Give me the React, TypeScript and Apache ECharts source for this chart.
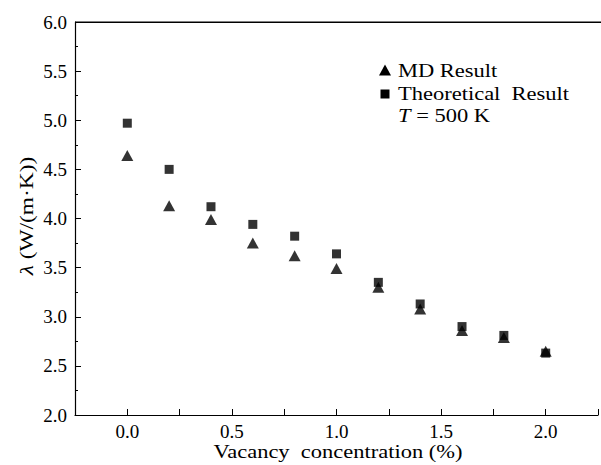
import React, { useEffect, useRef } from "react";
import * as echarts from "echarts";

const concentrations = [0, 0.2, 0.4, 0.6, 0.8, 1.0, 1.2, 1.4, 1.6, 1.8, 2.0];
const mdResult = [4.64, 4.13, 3.99, 3.75, 3.62, 3.49, 3.3, 3.08, 2.86, 2.79, 2.65];
const theoreticalResult = [4.97, 4.5, 4.12, 3.94, 3.82, 3.64, 3.35, 3.13, 2.9, 2.81, 2.63];
const seriesNames = ["MD Result", "Theoretical Result"];
const legendLines = ["MD Result", "Theoretical  Result", "{i|T} = 500 K"];
const xTitle = "Vacancy  concentration (%)";
const yTitle = "{i|λ} (W/(m·K))";

const FONT = "Liberation Serif";
const SX = 1.25;

export default function App() {
  const ref = useRef<HTMLDivElement>(null);
  useEffect(() => {
    if (!ref.current) return;
    const chart = echarts.init(ref.current, null, { renderer: "svg" });
    const labelStyle = { color: "#000", fontFamily: FONT, fontSize: 19 };
    const italic = { i: { fontStyle: "italic", fontFamily: FONT, fontSize: 18, fill: "#000" } };
    const txt = (text: string, x: number, y: number, extra: any = {}) => ({
      type: "text",
      x,
      y,
      scaleX: SX,
      style: {
        text,
        fill: "#000",
        fontFamily: FONT,
        fontSize: 18,
        verticalAlign: "middle",
        rich: italic,
        ...extra,
      },
    });
    chart.setOption({
      animation: false,
      backgroundColor: "#fff",
      textStyle: { fontFamily: FONT },
      grid: { left: 75, top: 22, width: 530, height: 393 },
      xAxis: {
        type: "value",
        min: -0.25,
        max: 2.25,
        interval: 0.25,
        axisLine: { show: true, onZero: false, lineStyle: { color: "#000", width: 1.2 } },
        axisTick: { show: true, inside: true, length: 6, lineStyle: { color: "#000" } },
        splitLine: { show: false },
        axisLabel: {
          ...labelStyle,
          margin: 7,
          formatter: (v: number) => (Math.abs(v * 2 - Math.round(v * 2)) < 1e-6 ? v.toFixed(1) : ""),
        },
      },
      yAxis: {
        type: "value",
        min: 2,
        max: 6,
        interval: 0.5,
        axisLine: { show: true, onZero: false, lineStyle: { color: "#000", width: 1.2 } },
        axisTick: { show: true, inside: true, length: 6, lineStyle: { color: "#000" } },
        minorTick: { show: true, splitNumber: 2, length: 3, lineStyle: { color: "#000" } },
        splitLine: { show: false },
        axisLabel: { ...labelStyle, margin: 8, formatter: (v: number) => v.toFixed(1) },
      },
      graphic: [
        {
          type: "rect",
          z: 100,
          shape: { x: 75, y: 21.4, width: 526, height: 1.6 },
          style: { fill: "#000" },
        },
        {
          type: "polygon",
          shape: { points: [[385, 64.5], [379, 75.5], [391, 75.5]] },
          style: { fill: "#000" },
        },
        {
          type: "rect",
          shape: { x: 380.5, y: 89.5, width: 9, height: 9 },
          style: { fill: "#000" },
        },
        txt(legendLines[0], 398, 71),
        txt(legendLines[1], 398, 94),
        txt(legendLines[2], 398, 116),
        txt(xTitle, 338, 452, { align: "center" }),
        {
          type: "text",
          x: 27,
          y: 216,
          rotation: Math.PI / 2,
          scaleX: 1.3,
          style: {
            text: yTitle,
            fill: "#000",
            fontFamily: FONT,
            fontSize: 18,
            align: "center",
            verticalAlign: "middle",
            rich: italic,
          },
        },
      ],
      series: [
        {
          name: seriesNames[0],
          type: "scatter",
          symbol: "triangle",
          symbolSize: [12, 11],
          itemStyle: { color: "#000" },
          data: concentrations.map((c, i) => [c, mdResult[i]]),
        },
        {
          name: seriesNames[1],
          type: "scatter",
          symbol: "rect",
          symbolSize: 9,
          itemStyle: { color: "#000" },
          data: concentrations.map((c, i) => [c, theoreticalResult[i]]),
        },
      ],
    });
    return () => chart.dispose();
  }, []);
  return <div ref={ref} style={{ position: "fixed", left: 0, top: 0, width: 601, height: 465 }} />;
}
